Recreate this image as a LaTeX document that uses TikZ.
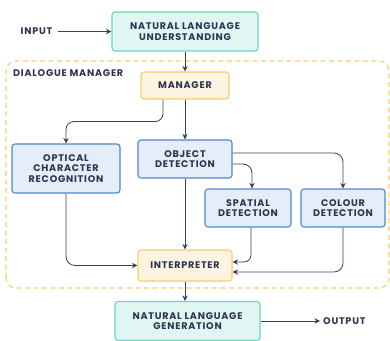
\documentclass[tikz,border=0pt]{standalone}
\usepackage{fontspec}
\setsansfont{Poppins}[LetterSpace=8]
\usepackage{xcolor}
\usepackage{tikz}
\usetikzlibrary{calc,arrows.meta,positioning}
\definecolor{ink}{HTML}{2E3350}
\definecolor{wire}{HTML}{3A3F5A}
\definecolor{tealfill}{HTML}{E0F6F3}
\definecolor{tealline}{HTML}{6CD3C4}
\definecolor{sandfill}{HTML}{FCF3E0}
\definecolor{sandline}{HTML}{F8CF6A}
\definecolor{skyfill}{HTML}{E4EDF8}
\definecolor{skyline}{HTML}{4F88C9}
\tikzset{box/.style={draw, rounded corners=3pt, line width=1.1pt, align=center, inner sep=0pt,
text=ink, font=\sffamily\bfseries\fontsize{9.6}{10.7}\selectfont},
nlbox/.style={box, fill=tealfill, draw=tealline, minimum width=146pt, minimum height=39pt},
dmbox/.style={box, fill=sandfill, draw=sandline},
subbox/.style={box, fill=skyfill, draw=skyline}}

\begin{document}
\begin{tikzpicture}[x=1pt,y=1pt,>={Stealth[length=5.5pt,width=5.5pt]},
  arr/.style={->, draw=wire, line width=0.8pt},
  lbl/.style={text=ink, font=\sffamily\bfseries\fontsize{9.6}{10.7}\selectfont, inner sep=0pt}]

\useasboundingbox (0,0) rectangle (390,340);

% the dialogue manager frame

    \draw[sandline, line width=1.1pt, dash pattern=on 5pt off 3.5pt, rounded corners=10pt]
    (6,52) rectangle (389,279);
    \node[lbl, anchor=west] (dm) at (13,267) {DIALOGUE MANAGER};

% the boxes

    \node[nlbox] (nlu) at (185,308.5) {NATURAL LANGUAGE\\UNDERSTANDING};
    \node[dmbox, minimum width=88pt, minimum height=27pt] (mgr) at (185,254.5) {MANAGER};
    \node[subbox, minimum width=108pt, minimum height=49pt] (ocr) at (66,171.5) {OPTICAL\\CHARACTER\\RECOGNITION};
    \node[subbox, minimum width=94pt, minimum height=38pt] (obj) at (185,181) {OBJECT\\DETECTION};
    \node[subbox, minimum width=86pt, minimum height=38pt] (spa) at (248,132) {SPATIAL\\DETECTION};
    \node[subbox, minimum width=84pt, minimum height=38pt] (col) at (343,132) {COLOUR\\DETECTION};
    \node[dmbox, minimum width=94pt, minimum height=31pt] (itp) at (185,74.5) {INTERPRETER};
    \node[nlbox, minimum width=145pt] (nlg) at (187.5,19) {NATURAL LANGUAGE\\GENERATION};

    \node[lbl] (in) at (36.5,308.5) {INPUT};
    \node[lbl, anchor=west] (out) at (323,19) {OUTPUT};

% the connectors

    \draw[arr] ([xshift=6pt]in.east) -- (nlu.west);
    \draw[arr] (nlu) -- (mgr);
    \draw[arr, rounded corners=8pt] ([xshift=-22pt]mgr.south) -- ++(0,-22) -| (ocr.north);
    \draw[arr] (mgr) -- (obj);
    \draw[arr, rounded corners=9pt] ([yshift=6pt]obj.east) -| (col.north);
    \draw[arr, rounded corners=9pt] ([yshift=-5pt]obj.east) -| ([xshift=4pt]spa.north);
    \draw[arr, rounded corners=9pt] (ocr.south) |- (itp.west);
    \draw[arr] (obj) -- (itp);
    \draw[arr, rounded corners=7pt] ([xshift=3pt]spa.south) |- ([yshift=3.5pt]itp.east);
    \draw[arr, rounded corners=9pt] (col.south) |- ([yshift=-6.5pt]itp.east);
    \draw[arr] (itp) -- (itp |- nlg.north);
    \draw[arr] (nlg.east) -- ([xshift=-3pt]out.west);

\end{tikzpicture}
\end{document}
